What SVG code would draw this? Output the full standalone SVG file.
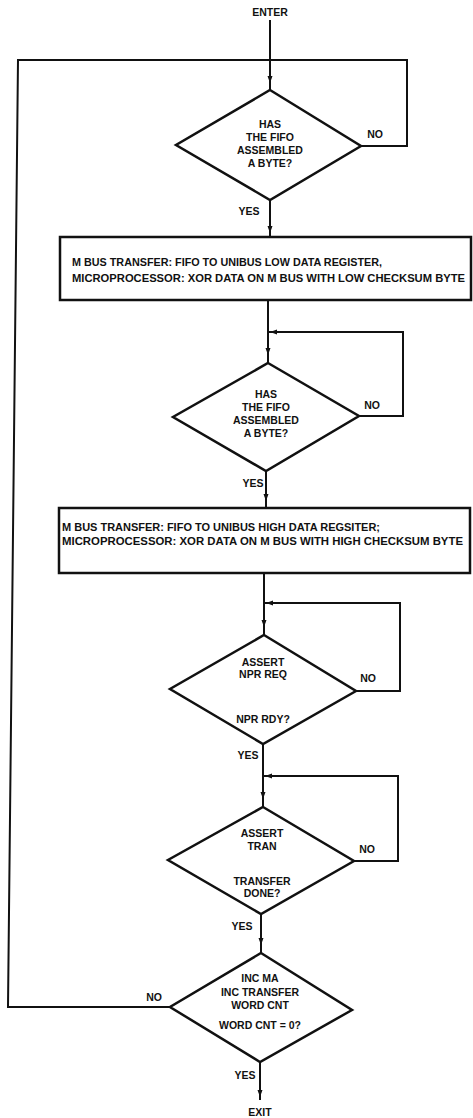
<svg xmlns="http://www.w3.org/2000/svg" width="473" height="1118" viewBox="0 0 473 1118">
<style>
text{font-family:"Liberation Sans",Arial,sans-serif;font-weight:bold;font-size:10.5px;fill:#111;text-anchor:middle}
.l{text-anchor:start}
.shape{fill:#fff;stroke:#111;stroke-width:2.5;stroke-linejoin:miter}
.ln{fill:none;stroke:#111;stroke-width:2}
.ah{fill:#111}
</style>
<rect width="473" height="1118" fill="#fff"/>
<g id="connectors">
<polyline class="ln" points="270,20 270,90"/>
<polyline class="ln" points="361,146 407,146 407,60 270,60"/>
<polyline class="ln" points="170,1007 8,1007 18,60 270,60"/>
<polyline class="ln" points="270,200 270,237"/>
<polyline class="ln" points="268,300 268,363"/>
<polyline class="ln" points="359,416 403,416 403,332 268,332"/>
<polyline class="ln" points="266,471 266,508"/>
<polyline class="ln" points="264,573 264,635"/>
<polyline class="ln" points="356,691 400,691 400,603 264,603"/>
<polyline class="ln" points="263,744 263,807"/>
<polyline class="ln" points="354,861 398,861 398,776 263,776"/>
<polyline class="ln" points="261,914 261,953"/>
<polyline class="ln" points="260,1062 260,1100"/>
<polygon class="ah" points="267.5,76 272.5,76 270,83"/>
<polygon class="ah" points="267.5,226 272.5,226 270,233"/>
<polygon class="ah" points="265.5,348 270.5,348 268,355"/>
<polygon class="ah" points="263.5,494 268.5,494 266,501"/>
<polygon class="ah" points="261.5,620 266.5,620 264,627"/>
<polygon class="ah" points="260.5,792 265.5,792 263,799"/>
<polygon class="ah" points="258.5,938 263.5,938 261,945"/>
<polygon class="ah" points="257.5,1090 262.5,1090 260,1097"/>
<polygon class="ah" points="270,332 277,329.5 277,334.5"/>
<polygon class="ah" points="266,603 273,600.5 273,605.5"/>
<polygon class="ah" points="265,776 272,773.5 272,778.5"/>
</g>
<g id="enter"><text x="270" y="16">ENTER</text></g>
<g id="d1">
<polygon class="shape" points="270,90 361,146 270,200 176,145"/>
<text x="270" y="128">HAS</text>
<text x="270" y="141">THE FIFO</text>
<text x="270" y="154">ASSEMBLED</text>
<text x="270" y="167">A BYTE?</text>
<text x="375" y="138">NO</text>
<text x="249" y="215">YES</text>
</g>
<g id="box1">
<rect class="shape" x="60" y="237" width="411" height="63"/>
<text class="l" x="72" y="266" textLength="310" lengthAdjust="spacingAndGlyphs">M BUS TRANSFER: FIFO TO UNIBUS LOW DATA REGISTER,</text>
<text class="l" x="72" y="282" textLength="393" lengthAdjust="spacingAndGlyphs">MICROPROCESSOR: XOR DATA ON M BUS WITH LOW CHECKSUM BYTE</text>
</g>
<g id="d2">
<polygon class="shape" points="268,363 359,416 266,471 173,417"/>
<text x="266" y="398">HAS</text>
<text x="266" y="411">THE FIFO</text>
<text x="266" y="424">ASSEMBLED</text>
<text x="266" y="437">A BYTE?</text>
<text x="372" y="409">NO</text>
<text x="253" y="487">YES</text>
</g>
<g id="box2">
<rect class="shape" x="59" y="508" width="411" height="65"/>
<text class="l" x="62" y="531" textLength="318" lengthAdjust="spacingAndGlyphs">M BUS TRANSFER: FIFO TO UNIBUS HIGH DATA REGSITER;</text>
<text class="l" x="62" y="545" textLength="401" lengthAdjust="spacingAndGlyphs">MICROPROCESSOR: XOR DATA ON M BUS WITH HIGH CHECKSUM BYTE</text>
</g>
<g id="d3">
<polygon class="shape" points="264,635 356,691 263,744 170,689"/>
<text x="263" y="666">ASSERT</text>
<text x="263" y="678">NPR REQ</text>
<text x="263" y="723">NPR RDY?</text>
<text x="368" y="682">NO</text>
<text x="248" y="759">YES</text>
</g>
<g id="d4">
<polygon class="shape" points="263,807 354,861 261,914 168,860"/>
<text x="262" y="837">ASSERT</text>
<text x="262" y="850">TRAN</text>
<text x="262" y="885">TRANSFER</text>
<text x="262" y="897">DONE?</text>
<text x="367" y="853">NO</text>
<text x="242" y="930">YES</text>
</g>
<g id="d5">
<polygon class="shape" points="261,953 352,1010 260,1062 170,1007"/>
<text x="260" y="982">INC MA</text>
<text x="260" y="996">INC TRANSFER</text>
<text x="260" y="1009">WORD CNT</text>
<text x="260" y="1029">WORD CNT = 0?</text>
<text x="154" y="1001">NO</text>
<text x="245" y="1079">YES</text>
</g>
<g id="exit"><text x="260" y="1116">EXIT</text></g>
</svg>
